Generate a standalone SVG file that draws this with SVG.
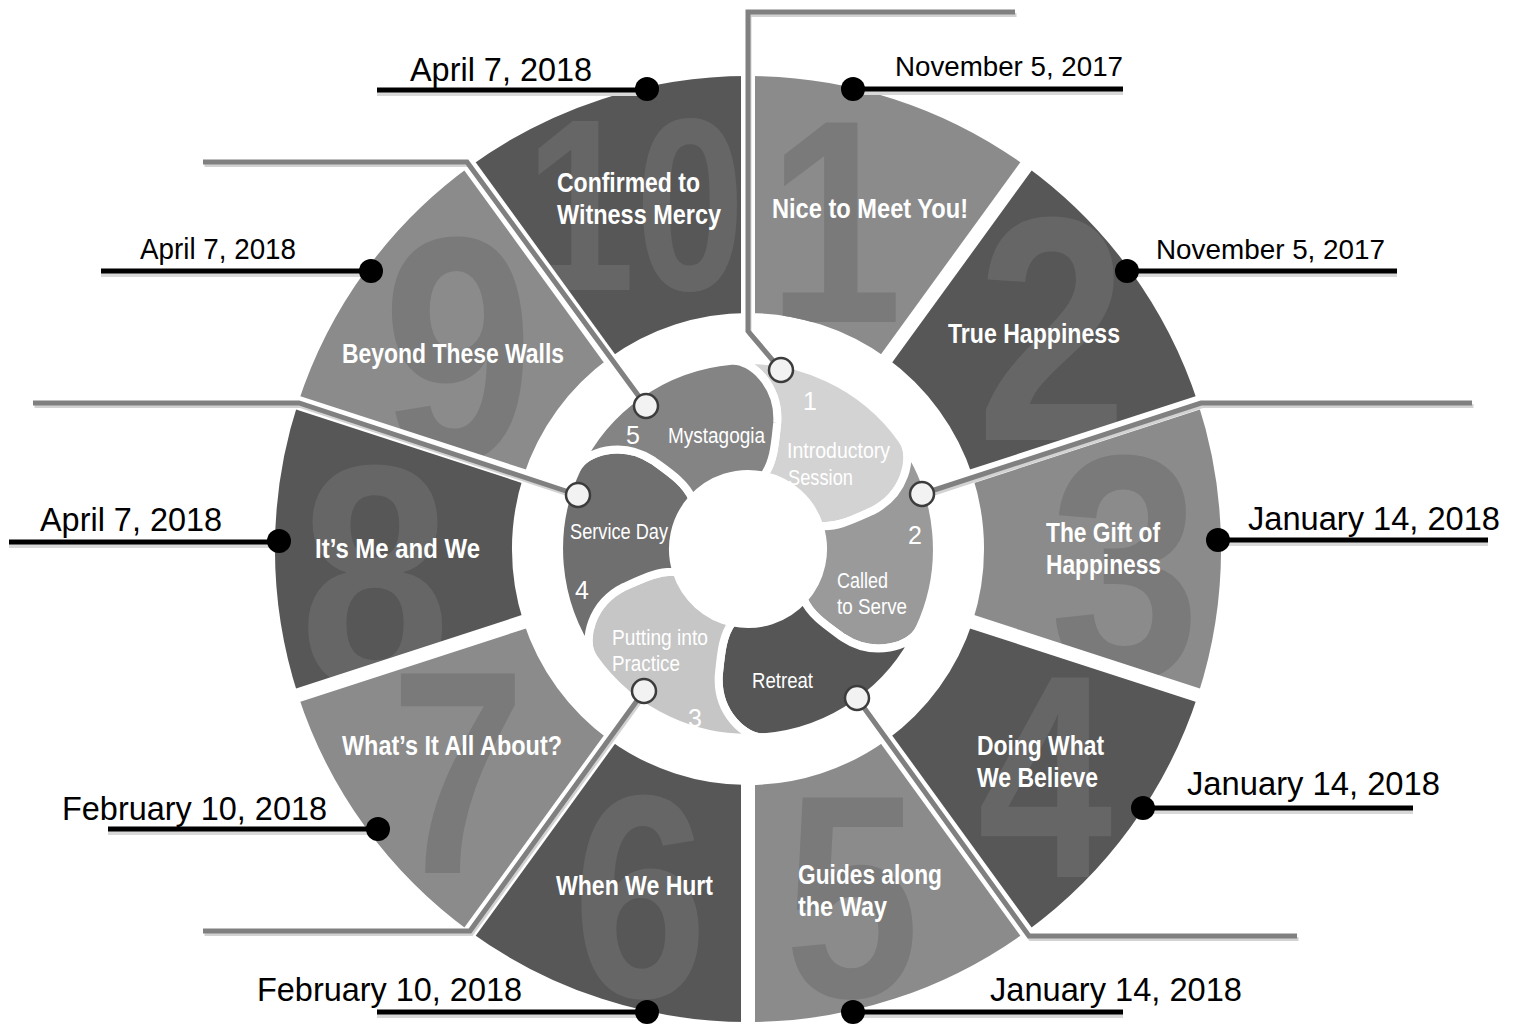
<svg xmlns="http://www.w3.org/2000/svg" xmlns:xlink="http://www.w3.org/1999/xlink" width="1514" height="1027" viewBox="0 0 1514 1027">
<style>
.seg-l{fill:#8b8b8b}
.seg-d{fill:#575757}
.num{font-family:"Liberation Sans",Arial,sans-serif;font-weight:bold;text-anchor:middle}
.num-l{fill:#7a7a7a}
.num-d{fill:#666666}
.lab{font-family:"Liberation Sans",Arial,sans-serif;font-weight:bold;font-size:28px;fill:#ffffff}
.gap{stroke:#ffffff;stroke-width:14;fill:none}
.blob{stroke:#ffffff;stroke-width:7.6;stroke-linejoin:round}
.bl{font-family:"Liberation Sans",Arial,sans-serif;font-size:22px;fill:#ffffff}
.bn{font-family:"Liberation Sans",Arial,sans-serif;font-size:25px;fill:#ffffff;text-anchor:middle}
.date{font-family:"Liberation Sans",Arial,sans-serif;fill:#000000}
.conn{fill:none;stroke:#808080;stroke-width:5;stroke-linejoin:miter}
.connsh{fill:none;stroke:#d2d2d2;stroke-width:4}
.dl{stroke:#000000;stroke-width:5}
.dlsh{stroke:#d8d8d8;stroke-width:4}
.pin{fill:#f2f2f2;stroke:#3c3c3c;stroke-width:2.5}
</style>
<defs>
<path id="s1" d="M748,313 L748,76 A473,473 0 0 1 1026,166.3 L886.7,358.1 A236,236 0 0 0 748,313 Z"/>
<path id="s2" d="M886.7,358.1 L1026,166.3 A473,473 0 0 1 1197.9,402.8 L972.5,476.1 A236,236 0 0 0 886.7,358.1 Z"/>
<path id="s3" d="M972.5,476.1 L1197.9,402.8 A473,473 0 0 1 1197.9,695.2 L972.5,621.9 A236,236 0 0 0 972.5,476.1 Z"/>
<path id="s4" d="M972.5,621.9 L1197.9,695.2 A473,473 0 0 1 1026,931.7 L886.7,739.9 A236,236 0 0 0 972.5,621.9 Z"/>
<path id="s5" d="M886.7,739.9 L1026,931.7 A473,473 0 0 1 748,1022 L748,785 A236,236 0 0 0 886.7,739.9 Z"/>
<path id="s6" d="M748,785 L748,1022 A473,473 0 0 1 470,931.7 L609.3,739.9 A236,236 0 0 0 748,785 Z"/>
<path id="s7" d="M609.3,739.9 L470,931.7 A473,473 0 0 1 298.1,695.2 L523.5,621.9 A236,236 0 0 0 609.3,739.9 Z"/>
<path id="s8" d="M523.5,621.9 L298.1,695.2 A473,473 0 0 1 298.1,402.8 L523.5,476.1 A236,236 0 0 0 523.5,621.9 Z"/>
<path id="s9" d="M523.5,476.1 L298.1,402.8 A473,473 0 0 1 470,166.3 L609.3,358.1 A236,236 0 0 0 523.5,476.1 Z"/>
<path id="s10" d="M609.3,358.1 L470,166.3 A473,473 0 0 1 748,76 L748,313 A236,236 0 0 0 609.3,358.1 Z"/>
<clipPath id="c1"><use xlink:href="#s1"/></clipPath>
<clipPath id="c2"><use xlink:href="#s2"/></clipPath>
<clipPath id="c3"><use xlink:href="#s3"/></clipPath>
<clipPath id="c4"><use xlink:href="#s4"/></clipPath>
<clipPath id="c5"><use xlink:href="#s5"/></clipPath>
<clipPath id="c6"><use xlink:href="#s6"/></clipPath>
<clipPath id="c7"><use xlink:href="#s7"/></clipPath>
<clipPath id="c8"><use xlink:href="#s8"/></clipPath>
<clipPath id="c9"><use xlink:href="#s9"/></clipPath>
<clipPath id="c10"><use xlink:href="#s10"/></clipPath>
<path id="blob" d="M-15.67,-179.25 A180,180 0 0 1 147.4,-103.2 C158,-88 150,-52 118,-36 C100,-28 84,-20 68,-22 A71.5,71.5 0 0 0 14.95,-69.89 C24.68,-82.74 25.75,-100.6 27.8,-120.2 C30,-155.9 2.8,-180.8 -15.67,-179.25 Z"/>
</defs>
<rect x="0" y="0" width="1514" height="1027" fill="#ffffff"/>

<g id="wheel">
<g id="seg1"><use xlink:href="#s1" class="seg-l"/><text class="num num-l" x="835" y="322" font-size="290" textLength="135" lengthAdjust="spacingAndGlyphs" clip-path="url(#c1)">1</text><text class="lab" x="772" y="218" textLength="196" lengthAdjust="spacingAndGlyphs">Nice to Meet You!</text></g>
<g id="seg2"><use xlink:href="#s2" class="seg-d"/><text class="num num-d" x="1052" y="440" font-size="320" textLength="151" lengthAdjust="spacingAndGlyphs" clip-path="url(#c2)">2</text><text class="lab" x="948" y="343" textLength="172" lengthAdjust="spacingAndGlyphs">True Happiness</text></g>
<g id="seg3"><use xlink:href="#s3" class="seg-l"/><text class="num num-l" x="1125" y="678" font-size="320" textLength="151" lengthAdjust="spacingAndGlyphs" clip-path="url(#c3)">3</text><text class="lab" x="1046" y="542" textLength="114" lengthAdjust="spacingAndGlyphs">The Gift of</text><text class="lab" x="1046" y="574" textLength="115" lengthAdjust="spacingAndGlyphs">Happiness</text></g>
<g id="seg4"><use xlink:href="#s4" class="seg-d"/><text class="num num-d" x="1045" y="877" font-size="290" textLength="135" lengthAdjust="spacingAndGlyphs" clip-path="url(#c4)">4</text><text class="lab" x="977" y="755" textLength="127" lengthAdjust="spacingAndGlyphs">Doing What</text><text class="lab" x="977" y="787" textLength="121" lengthAdjust="spacingAndGlyphs">We Believe</text></g>
<g id="seg5"><use xlink:href="#s5" class="seg-l"/><text class="num num-l" x="852" y="997" font-size="290" textLength="135" lengthAdjust="spacingAndGlyphs" clip-path="url(#c5)">5</text><text class="lab" x="798" y="884" textLength="144" lengthAdjust="spacingAndGlyphs">Guides along</text><text class="lab" x="798" y="916" textLength="89" lengthAdjust="spacingAndGlyphs">the Way</text></g>
<g id="seg6"><use xlink:href="#s6" class="seg-d"/><text class="num num-d" x="640" y="997" font-size="290" textLength="135" lengthAdjust="spacingAndGlyphs" clip-path="url(#c6)">6</text><text class="lab" x="556" y="895" textLength="157" lengthAdjust="spacingAndGlyphs">When We Hurt</text></g>
<g id="seg7"><use xlink:href="#s7" class="seg-l"/><text class="num num-l" x="458" y="873" font-size="290" textLength="135" lengthAdjust="spacingAndGlyphs" clip-path="url(#c7)">7</text><text class="lab" x="342" y="755" textLength="220" lengthAdjust="spacingAndGlyphs">What’s It All About?</text></g>
<g id="seg8"><use xlink:href="#s8" class="seg-d"/><text class="num num-d" x="375" y="688" font-size="320" textLength="151" lengthAdjust="spacingAndGlyphs" clip-path="url(#c8)">8</text><text class="lab" x="315" y="558" textLength="165" lengthAdjust="spacingAndGlyphs">It’s Me and We</text></g>
<g id="seg9"><use xlink:href="#s9" class="seg-l"/><text class="num num-l" x="458" y="460" font-size="320" textLength="151" lengthAdjust="spacingAndGlyphs" clip-path="url(#c9)">9</text><text class="lab" x="342" y="363" textLength="222" lengthAdjust="spacingAndGlyphs">Beyond These Walls</text></g>
<g id="seg10"><use xlink:href="#s10" class="seg-d"/><text class="num num-d" x="635" y="290" font-size="245" textLength="220" lengthAdjust="spacingAndGlyphs" clip-path="url(#c10)">10</text><text class="lab" x="557" y="192" textLength="143" lengthAdjust="spacingAndGlyphs">Confirmed to</text><text class="lab" x="557" y="224" textLength="164" lengthAdjust="spacingAndGlyphs">Witness Mercy</text></g>
<g id="gaps">
<line class="gap" x1="748" y1="324" x2="748" y2="64"/>
<line class="gap" x1="880.3" y1="367" x2="1033.1" y2="156.6"/>
<line class="gap" x1="962" y1="479.5" x2="1209.3" y2="399.1"/>
<line class="gap" x1="962" y1="618.5" x2="1209.3" y2="698.9"/>
<line class="gap" x1="880.3" y1="731" x2="1033.1" y2="941.4"/>
<line class="gap" x1="748" y1="774" x2="748" y2="1034"/>
<line class="gap" x1="615.7" y1="731" x2="462.9" y2="941.4"/>
<line class="gap" x1="534" y1="618.5" x2="286.7" y2="698.9"/>
<line class="gap" x1="534" y1="479.5" x2="286.7" y2="399.1"/>
<line class="gap" x1="615.7" y1="367" x2="462.9" y2="156.6"/>
</g>
</g>

<g id="phases" transform="translate(748,549) scale(1.05)">
<g id="phase1"><use xlink:href="#blob" class="blob" fill="#d3d3d3"/></g>
<g id="phase2"><use xlink:href="#blob" class="blob" fill="#9a9a9a" transform="rotate(60)"/></g>
<g id="phase-retreat"><use xlink:href="#blob" class="blob" fill="#565656" transform="rotate(120)"/></g>
<g id="phase3"><use xlink:href="#blob" class="blob" fill="#c6c6c6" transform="rotate(180)"/></g>
<g id="phase4"><use xlink:href="#blob" class="blob" fill="#6f6f6f" transform="rotate(240)"/></g>
<g id="phase5"><use xlink:href="#blob" class="blob" fill="#848484" transform="rotate(300)"/></g>
</g>
<g id="phase-labels">
<text class="bn" x="810" y="410">1</text>
<text class="bl" x="787" y="458" textLength="103" lengthAdjust="spacingAndGlyphs">Introductory</text>
<text class="bl" x="788" y="485" textLength="65" lengthAdjust="spacingAndGlyphs">Session</text>
<text class="bn" x="915" y="544">2</text>
<text class="bl" x="837" y="588" textLength="51" lengthAdjust="spacingAndGlyphs">Called</text>
<text class="bl" x="837" y="614" textLength="70" lengthAdjust="spacingAndGlyphs">to Serve</text>
<text class="bl" x="752" y="688" textLength="61" lengthAdjust="spacingAndGlyphs">Retreat</text>
<text class="bl" x="612" y="645" textLength="96" lengthAdjust="spacingAndGlyphs">Putting into</text>
<text class="bl" x="612" y="671" textLength="68" lengthAdjust="spacingAndGlyphs">Practice</text>
<text class="bn" x="695" y="727">3</text>
<text class="bl" x="570" y="539" textLength="98" lengthAdjust="spacingAndGlyphs">Service Day</text>
<text class="bn" x="582" y="599">4</text>
<text class="bn" x="633" y="444">5</text>
<text class="bl" x="668" y="443" textLength="97" lengthAdjust="spacingAndGlyphs">Mystagogia</text>
</g>

<g id="connectors">
<g transform="translate(1.5,3)">
<polyline class="connsh" points="781,370 748,331 748,12 1015,12"/>
<polyline class="connsh" points="922,494 1201,403 1472,403"/>
<polyline class="connsh" points="857,698 1029,936 1297,936"/>
<polyline class="connsh" points="644,691 470,931 203,931"/>
<polyline class="connsh" points="578,495 299,403 33,403"/>
<polyline class="connsh" points="646,406 467,162 203,162"/>
</g>
<polyline class="conn" points="781,370 748,331 748,12 1015,12"/>
<polyline class="conn" points="922,494 1201,403 1472,403"/>
<polyline class="conn" points="857,698 1029,936 1297,936"/>
<polyline class="conn" points="644,691 470,931 203,931"/>
<polyline class="conn" points="578,495 299,403 33,403"/>
<polyline class="conn" points="646,406 467,162 203,162"/>
<circle class="pin" cx="781" cy="370" r="12"/>
<circle class="pin" cx="922" cy="494" r="12"/>
<circle class="pin" cx="857" cy="698" r="12"/>
<circle class="pin" cx="644" cy="691" r="12"/>
<circle class="pin" cx="578" cy="495" r="12"/>
<circle class="pin" cx="646" cy="406" r="12"/>
</g>

<g id="dates">
<g id="date10"><line class="dlsh" x1="377" y1="94" x2="647" y2="94"/><line class="dl" x1="377" y1="90" x2="647" y2="90"/><circle cx="647" cy="89" r="12"/><text class="date" x="410" y="81" font-size="34" textLength="182" lengthAdjust="spacingAndGlyphs">April 7, 2018</text></g>
<g id="date1"><line class="dlsh" x1="853" y1="93" x2="1123" y2="93"/><line class="dl" x1="853" y1="89" x2="1123" y2="89"/><circle cx="853" cy="89" r="12"/><text class="date" x="895" y="76" font-size="28" textLength="228" lengthAdjust="spacingAndGlyphs">November 5, 2017</text></g>
<g id="date2"><line class="dlsh" x1="1127" y1="275" x2="1397" y2="275"/><line class="dl" x1="1127" y1="271" x2="1397" y2="271"/><circle cx="1127" cy="271" r="12"/><text class="date" x="1156" y="259" font-size="28" textLength="229" lengthAdjust="spacingAndGlyphs">November 5, 2017</text></g>
<g id="date9"><line class="dlsh" x1="101" y1="275" x2="371" y2="275"/><line class="dl" x1="101" y1="271" x2="371" y2="271"/><circle cx="371" cy="271" r="12"/><text class="date" x="140" y="259" font-size="29" textLength="156" lengthAdjust="spacingAndGlyphs">April 7, 2018</text></g>
<g id="date3"><line class="dlsh" x1="1218" y1="544" x2="1488" y2="544"/><line class="dl" x1="1218" y1="540" x2="1488" y2="540"/><circle cx="1218" cy="540" r="12"/><text class="date" x="1248" y="530" font-size="33" textLength="252" lengthAdjust="spacingAndGlyphs">January 14, 2018</text></g>
<g id="date8"><line class="dlsh" x1="9" y1="546" x2="279" y2="546"/><line class="dl" x1="9" y1="542" x2="279" y2="542"/><circle cx="279" cy="541" r="12"/><text class="date" x="40" y="531" font-size="34" textLength="182" lengthAdjust="spacingAndGlyphs">April 7, 2018</text></g>
<g id="date4"><line class="dlsh" x1="1143" y1="812" x2="1413" y2="812"/><line class="dl" x1="1143" y1="808" x2="1413" y2="808"/><circle cx="1143" cy="808" r="12"/><text class="date" x="1187" y="795" font-size="33" textLength="253" lengthAdjust="spacingAndGlyphs">January 14, 2018</text></g>
<g id="date7"><line class="dlsh" x1="108" y1="833" x2="378" y2="833"/><line class="dl" x1="108" y1="829" x2="378" y2="829"/><circle cx="378" cy="829" r="12"/><text class="date" x="62" y="820" font-size="33" textLength="265" lengthAdjust="spacingAndGlyphs">February 10, 2018</text></g>
<g id="date6"><line class="dlsh" x1="377" y1="1016" x2="647" y2="1016"/><line class="dl" x1="377" y1="1012" x2="647" y2="1012"/><circle cx="647" cy="1012" r="12"/><text class="date" x="257" y="1001" font-size="33" textLength="265" lengthAdjust="spacingAndGlyphs">February 10, 2018</text></g>
<g id="date5"><line class="dlsh" x1="853" y1="1016" x2="1123" y2="1016"/><line class="dl" x1="853" y1="1012" x2="1123" y2="1012"/><circle cx="853" cy="1012" r="12"/><text class="date" x="990" y="1001" font-size="33" textLength="252" lengthAdjust="spacingAndGlyphs">January 14, 2018</text></g>
</g>
</svg>
